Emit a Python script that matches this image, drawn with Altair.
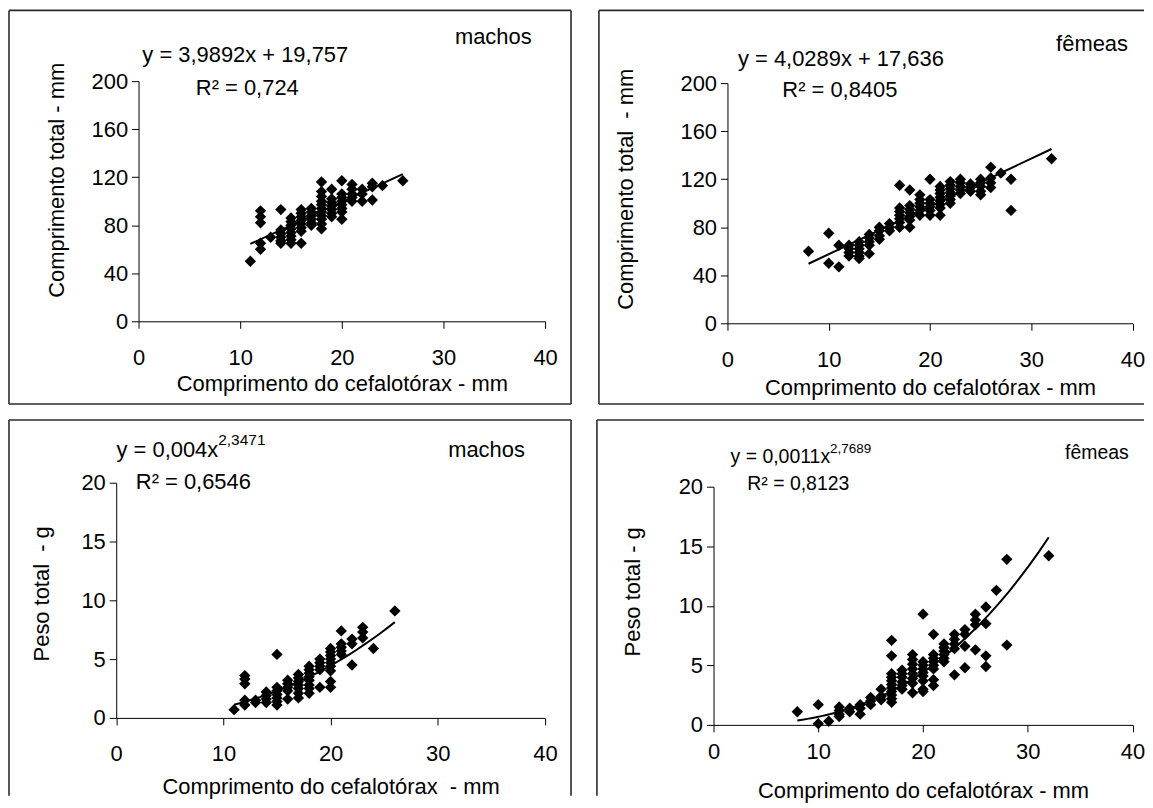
import altair as alt
import pandas as pd

FONT = "Liberation Sans, Arial, Helvetica, sans-serif"

# comprimento do cefalotórax (mm) -> valores observados
machos_ct = {
    11: [50], 12: [92, 87, 82, 65, 60], 13: [70], 14: [93, 76, 73, 70, 67, 65],
    15: [86, 83, 80, 77, 74, 71, 68, 65], 16: [93, 90, 87, 84, 81, 78, 75, 65],
    17: [94, 91, 88, 85, 82, 80], 18: [116, 108, 104, 100, 97, 94, 91, 88, 85, 81, 77],
    19: [110, 102, 99, 96, 93, 90, 87], 20: [117, 106, 103, 100, 97, 94, 91, 85],
    21: [114, 110, 106, 103, 100], 22: [110, 106, 100], 23: [115, 112, 101],
    24: [113], 26: [117],
}
femeas_ct = {
    8: [60], 10: [75, 50], 11: [65, 47], 12: [65, 62, 59, 56], 13: [68, 65, 62, 59, 56, 54],
    14: [74, 71, 68, 65, 58], 15: [80, 77, 73, 70], 16: [83, 80, 77],
    17: [115, 96, 93, 90, 87, 84, 80], 18: [111, 98, 95, 92, 89, 86, 80],
    19: [107, 103, 100, 97, 94, 90], 20: [120, 103, 100, 97, 94, 90],
    21: [114, 111, 108, 105, 102, 99, 96, 90], 22: [118, 115, 112, 109, 106, 103, 100],
    23: [120, 117, 114, 111, 108], 24: [116, 113, 110], 25: [120, 117, 114, 110, 107],
    26: [130, 121, 117, 113], 27: [125], 28: [120, 94], 32: [137],
}
machos_pt = {
    11: [0.7], 12: [3.6, 3.3, 2.9, 1.5, 1.1], 13: [1.5, 1.3], 14: [2.2, 1.9, 1.6, 1.3],
    15: [5.4, 2.6, 2.3, 2.0, 1.7, 1.4, 1.1], 16: [3.2, 2.9, 2.6, 2.3, 1.6],
    17: [3.7, 3.4, 3.1, 2.8, 2.5, 2.1, 1.7], 18: [4.4, 4.1, 3.8, 3.5, 3.2, 2.8, 2.5, 2.1],
    19: [5.0, 4.7, 4.4, 4.1, 2.6], 20: [5.9, 5.6, 5.3, 5.0, 4.7, 4.4, 4.0, 3.1, 2.6],
    21: [7.4, 6.3, 6.0, 5.7, 5.4], 22: [6.7, 6.3, 4.5], 23: [7.7, 7.3, 6.8],
    24: [5.9], 26: [9.1],
}
femeas_pt = {
    8: [1.1], 10: [1.7, 0.1], 11: [0.3], 12: [1.5, 1.2, 0.9, 0.7], 13: [1.4, 1.1],
    14: [1.7, 1.4, 0.9], 15: [2.3, 2.0, 1.7], 16: [3.0, 2.4, 2.1],
    17: [7.1, 5.8, 4.3, 4.0, 3.7, 3.4, 3.1, 2.8, 2.5, 2.2, 1.9],
    18: [4.6, 4.3, 4.0, 3.6, 3.3, 3.0], 19: [5.9, 5.5, 5.1, 4.7, 4.3, 3.9, 3.5, 2.7],
    20: [9.3, 5.3, 5.0, 4.7, 4.4, 4.1, 3.7, 3.0, 2.8],
    21: [7.6, 5.9, 5.6, 5.3, 5.0, 4.7, 3.8, 3.3], 22: [6.8, 6.5, 6.2, 5.9, 5.6, 5.3],
    23: [7.6, 7.2, 6.8, 6.4, 4.2], 24: [8.0, 7.6, 6.6, 4.8], 25: [9.3, 8.8, 8.4, 6.3],
    26: [9.9, 8.5, 5.8, 4.9], 27: [11.3], 28: [13.9, 6.7], 32: [14.2],
}

x_ticks = [0, 10, 20, 30, 40]
ct_ticks = [0, 40, 80, 120, 160, 200]
pt_ticks = [0, 5, 10, 15, 20]


def to_df(d):
    rows = [(x, y) for x, ys in d.items() for y in ys]
    return pd.DataFrame(rows, columns=["x", "y"])


AX = dict(labelFont=FONT, titleFont=FONT, labelFontSize=22, titleFontSize=22,
          titleFontWeight="normal", labelColor="black", titleColor="black",
          domainColor="black", tickColor="black", domainWidth=1, tickWidth=1,
          tickSize=7, labelFlush=False, labelOverlap=False, grid=False)


def panel(data, w, h, xr, yr, ydom, yticks, method, xtitle, ytitle,
          xlab_pad, xtitle_y, ytitle_x, ytitle_y, texts, sups, tsize, ssize, edges):
    xs = alt.Scale(domain=[0, 40], range=xr, nice=False, zero=False)
    ys = alt.Scale(domain=ydom, range=yr, nice=False, zero=False)
    xaxis = alt.Axis(values=x_ticks, offset=-(h - yr[0]), title=xtitle,
                     labelPadding=xlab_pad, titleY=xtitle_y, titleBaseline="alphabetic", **AX)
    yaxis = alt.Axis(values=yticks, offset=-xr[0], title=ytitle,
                     labelPadding=4, titleX=ytitle_x, titleY=ytitle_y, titleAngle=270,
                     titleAlign="center", titleBaseline="alphabetic", **AX)
    X = alt.X("x:Q", scale=xs, axis=xaxis)
    Y = alt.Y("y:Q", scale=ys, axis=yaxis)
    df = to_df(data)
    pts = alt.Chart(df).mark_point(shape="diamond", filled=True, size=130,
                                   color="black", opacity=1).encode(x=X, y=Y)
    line = alt.Chart(df).transform_regression("x", "y", method=method).mark_line(
        color="black", strokeWidth=2).encode(x=X, y=Y)
    tdf = pd.DataFrame(texts, columns=["x", "y", "label", "align"])
    layers = [pts, line]
    for al in tdf["align"].unique():
        sub = tdf[tdf["align"] == al]
        layers.append(alt.Chart(sub).mark_text(
            align=al, baseline="middle", fontSize=tsize, font=FONT, color="black").encode(
            x=X, y=Y, text="label:N"))
    if sups:
        sdf = pd.DataFrame(sups, columns=["x", "y", "label", "dy"])
        layers.append(alt.Chart(sdf).mark_text(
            align="left", baseline="middle", fontSize=ssize, font=FONT, color="black",
            dy=int(sdf["dy"].iloc[0])).encode(x=X, y=Y, text="label:N"))
    one = pd.DataFrame({"k": [0]})
    seg = {
        "top": dict(x=alt.value(0), x2=alt.value(w), y=alt.value(0)),
        "bottom": dict(x=alt.value(0), x2=alt.value(w), y=alt.value(h)),
        "left": dict(x=alt.value(0), y=alt.value(0), y2=alt.value(h)),
        "right": dict(x=alt.value(w), y=alt.value(0), y2=alt.value(h)),
    }
    for e in edges:
        layers.append(alt.Chart(one).mark_rule(color="#2b2b2b", strokeWidth=1.6).encode(**seg[e]))
    return alt.layer(*layers).properties(width=w, height=h)


tl = panel(machos_ct, 564, 395, [130, 538], [312, 71], [0, 200], ct_ticks, "linear",
           "Comprimento do cefalotórax - mm", "Comprimento total - mm",
           19, 69, -75, 170,
           [(34.9, 236.5, "machos", "center"),
            (10.5, 221.6, "y = 3,9892x + 19,757", "center"),
            (10.7, 194.2, "R² = 0,724", "center")],
           None, 22, 14, ["top", "left", "right", "bottom"])

tr = panel(femeas_ct, 547, 395, [129, 535.5], [314, 73], [0, 200], ct_ticks, "linear",
           "Comprimento do cefalotórax - mm", "Comprimento total \u00a0- mm",
           19, 71, -95, 179,
           [(36.0, 232.4, "fêmeas", "center"),
            (11.2, 220.0, "y = 4,0289x + 17,636", "center"),
            (11.1, 194.2, "R² = 0,8405", "center")],
           None, 22, 14, ["top", "left", "bottom"])

bl = panel(machos_pt, 564, 377, [107.6, 537.8], [299, 63], [0, 20], pt_ticks, "pow",
           "Comprimento do cefalotórax \u00a0- mm", "Peso total \u00a0- g",
           19, 76, -68, 174,
           [(34.55, 22.8, "machos", "center"),
            (9.52, 22.8, "y = 0,004x", "right"),
            (7.2, 20.1, "R² = 0,6546", "center")],
           [(9.52, 22.8, "2,3471", -10)], 22, 15.5, ["top", "left", "right"])

br = panel(femeas_pt, 549, 377, [117, 537.5], [306, 67], [0, 20], pt_ticks, "pow",
           "Comprimento do cefalotórax - mm", "Peso total - g",
           10, 73, -74, 172,
           [(36.6, 22.8, "fêmeas", "center"),
            (11.13, 22.5, "y = 0,0011x", "right"),
            (8.09, 20.2, "R² = 0,8123", "center")],
           [(11.13, 22.5, "2,7689", -8)], 19.5, 13.5, ["top", "left"])

chart = alt.vconcat(
    alt.hconcat(tl, tr, spacing=26),
    alt.hconcat(bl, br, spacing=24),
    spacing=14,
).properties(padding=0, background="white").configure_view(stroke=None)

chart.save("out.html", embed_options={"renderer": "svg", "actions": False})
